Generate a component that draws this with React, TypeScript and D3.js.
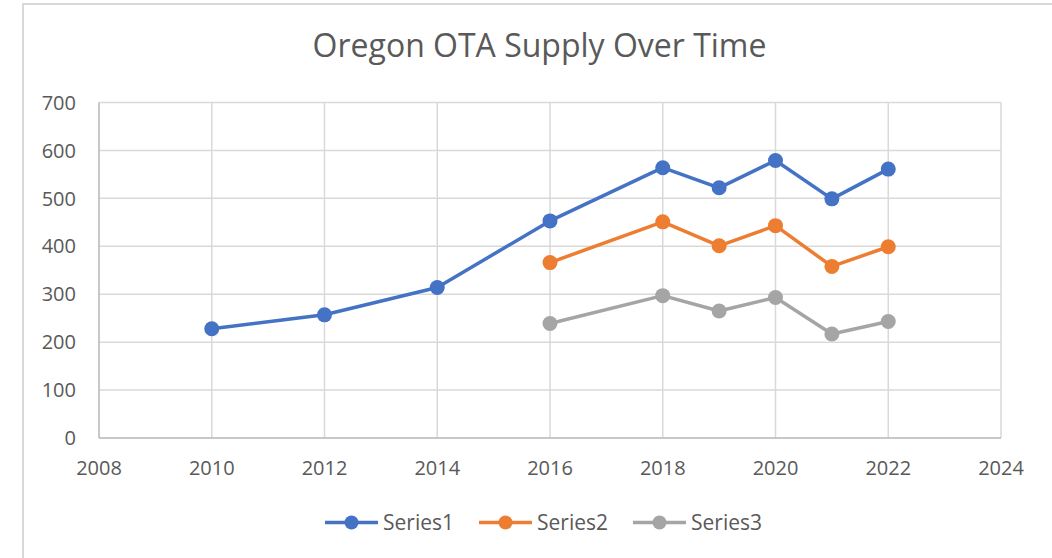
import * as d3 from "d3";
import React from "react";

const years = [2010, 2012, 2014, 2016, 2018, 2019, 2020, 2021, 2022];
const series1 = [228, 257, 314, 453, 564, 522, 579, 499, 561];
const series2 = [null, null, null, 366, 451, 401, 443, 358, 399];
const series3 = [null, null, null, 239, 297, 265, 293, 217, 243];
const seriesNames = ["Series1", "Series2", "Series3"];
const seriesColors = ["#4472C4", "#ED7D31", "#A5A5A5"];
const xTicks = [2008, 2010, 2012, 2014, 2016, 2018, 2020, 2022, 2024];
const yTicks = [0, 100, 200, 300, 400, 500, 600, 700];

const W = 1052;
const H = 558;
const plot = { left: 99, right: 1001, top: 102.5, bottom: 438 };
const FONT = "'Open Sans', 'Noto Sans', sans-serif";

export default function App() {
  const x = d3.scaleLinear().domain([2008, 2024]).range([plot.left, plot.right]);
  const y = d3.scaleLinear().domain([0, 700]).range([plot.bottom, plot.top]);

  const allSeries = [series1, series2, series3];

  const line = d3
    .line<number | null>()
    .defined((d) => d !== null)
    .x((_, i) => x(years[i]))
    .y((d) => y(d as number));

  // legend layout (line swatch + label)
  const legendX = [325, 479, 633];
  const legendY = 522.5;

  return (
    <svg
      width={W}
      height={H}
      style={{ position: "absolute", left: 0, top: 0, background: "#fff" }}
      fontFamily={FONT}
    >
      <rect x={23} y={4} width={1100} height={600} fill="#fff" stroke="#d9d9d9" strokeWidth={2} />

      <text x={539.5} y={57} textAnchor="middle" fontSize={32} fill="#595959">
        Oregon OTA Supply Over Time
      </text>

      {/* grid */}
      {yTicks.map((t) => (
        <line key={"h" + t} x1={plot.left} x2={plot.right} y1={y(t)} y2={y(t)} stroke="#d9d9d9" strokeWidth={1.5} />
      ))}
      {xTicks.map((t) => (
        <line key={"v" + t} x1={x(t)} x2={x(t)} y1={plot.top} y2={plot.bottom} stroke="#d9d9d9" strokeWidth={1.5} />
      ))}
      <line x1={plot.left} x2={plot.left} y1={plot.top} y2={plot.bottom} stroke="#bfbfbf" strokeWidth={1.5} />
      <line x1={plot.left} x2={plot.right} y1={plot.bottom} y2={plot.bottom} stroke="#bfbfbf" strokeWidth={1.5} />

      {/* tick labels */}
      {yTicks.map((t) => (
        <text key={"yl" + t} x={76} y={y(t)} dy="0.36em" textAnchor="end" fontSize={20} fill="#595959">
          {t}
        </text>
      ))}
      {xTicks.map((t) => (
        <text key={"xl" + t} x={x(t)} y={468} dy="0.36em" textAnchor="middle" fontSize={20} fill="#595959">
          {t}
        </text>
      ))}

      {/* series */}
      {allSeries.map((s, si) => (
        <g key={"s" + si}>
          <path d={line(s) || ""} fill="none" stroke={seriesColors[si]} strokeWidth={3.5} strokeLinejoin="round" />
          {s.map((v, i) =>
            v === null ? null : (
              <circle key={i} cx={x(years[i])} cy={y(v)} r={7.5} fill={seriesColors[si]} />
            )
          )}
        </g>
      ))}

      {/* legend */}
      {seriesNames.map((name, i) => (
        <g key={name}>
          <line x1={legendX[i]} x2={legendX[i] + 53} y1={legendY} y2={legendY} stroke={seriesColors[i]} strokeWidth={3.5} />
          <circle cx={legendX[i] + 26.5} cy={legendY} r={7} fill={seriesColors[i]} />
          <text x={legendX[i] + 58} y={legendY} dy="0.36em" fontSize={21} fill="#595959">
            {name}
          </text>
        </g>
      ))}
    </svg>
  );
}
